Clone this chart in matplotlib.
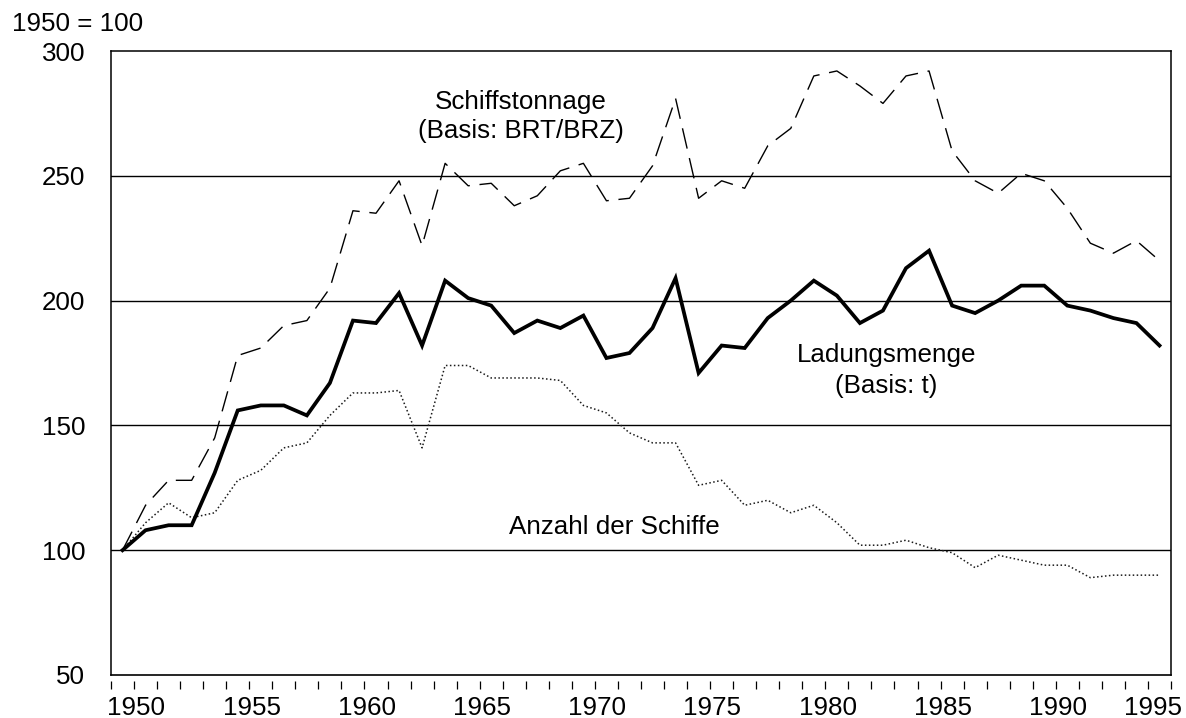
import matplotlib
matplotlib.use("Agg")
import matplotlib.pyplot as plt

plt.rcParams['font.family'] = ['Liberation Sans', 'DejaVu Sans']

years = list(range(1950, 1996))

ladungsmenge = [100, 108, 110, 110, 131, 156, 158, 158, 154, 167,
                192, 191, 203, 182, 208, 201, 198, 187, 192, 189,
                194, 177, 179, 189, 209, 171, 182, 181, 193, 200,
                208, 202, 191, 196, 213, 220, 198, 195, 200, 206,
                206, 198, 196, 193, 191, 182]

schiffstonnage = [100, 118, 128, 128, 145, 178, 181, 190, 192, 205,
                  236, 235, 248, 222, 255, 246, 247, 238, 242, 252,
                  255, 240, 241, 254, 281, 241, 248, 245, 262, 269,
                  290, 292, 286, 279, 290, 292, 260, 248, 243, 251,
                  248, 237, 223, 219, 224, 216]

anzahl = [100, 111, 119, 113, 115, 128, 132, 141, 143, 154,
          163, 163, 164, 141, 174, 174, 169, 169, 169, 168,
          158, 155, 147, 143, 143, 126, 128, 118, 120, 115,
          118, 111, 102, 102, 104, 101, 99, 93, 98, 96,
          94, 94, 89, 90, 90, 90]

y_ticks = [50, 100, 150, 200, 250, 300]
x_label_years = [1950, 1955, 1960, 1965, 1970, 1975, 1980, 1985, 1990, 1995]

FS = 18.7
W, H = 1186, 718
fig = plt.figure(figsize=(W / 100, H / 100), dpi=100)
ax = fig.add_axes([111 / W, 1 - 675 / H, (1171 - 111) / W, (675 - 51) / H])

ax.set_xlim(1949.5, 1995.5)
ax.set_ylim(50, 300)

# grid lines
for v in y_ticks[1:-1]:
    ax.axhline(v, color='black', lw=1.0, zorder=1)
ax.axhline(50, color='black', lw=1.2, clip_on=False, zorder=3)

ax.plot(years, anzahl, color='#1a1a1a', lw=1.1, linestyle=(0, (1, 1.6)), zorder=2)
ax.plot(years, schiffstonnage, color='black', lw=1.0, linestyle=(0, (15, 7)), zorder=2)
ax.plot(years, ladungsmenge, color='black', lw=2.7, solid_joinstyle='miter', zorder=4)

# spines
for s in ['top', 'left', 'right']:
    ax.spines[s].set_linewidth(1.1)
ax.spines['bottom'].set_position(('outward', 4))
ax.spines['bottom'].set_visible(False)

# y axis
ax.set_yticks(y_ticks)
ax.set_yticklabels([str(v) for v in y_ticks])
ax.tick_params(axis='y', length=0, pad=26 * 0.72, labelsize=FS)

# x axis: boundary tick marks (minor) + labels (major, no marks)
ax.set_xticks([y - 0.5 for y in range(1950, 1997)], minor=True)
label_pos = [y + 0.6 for y in x_label_years[:-1]] + [1994.7]
ax.set_xticks(label_pos)
ax.set_xticklabels([str(y) for y in x_label_years])
ax.tick_params(axis='x', which='major', length=0, pad=11, labelsize=FS)
ax.tick_params(axis='x', which='minor', length=5.5, width=0.9, direction='out')

# annotations
ax.text(1967.3, 279.6, 'Schiffstonnage', ha='center', va='center', fontsize=FS)
ax.text(1967.3, 267.9, '(Basis: BRT/BRZ)', ha='center', va='center', fontsize=FS)
ax.text(1983.15, 178.2, 'Ladungsmenge', ha='center', va='center', fontsize=FS)
ax.text(1983.15, 165.7, '(Basis: t)', ha='center', va='center', fontsize=FS)
ax.text(1971.35, 109.2, 'Anzahl der Schiffe', ha='center', va='center', fontsize=FS)

fig.text(12 / W, 1 - 24 / H, '1950 = 100', ha='left', va='center', fontsize=FS)

fig.savefig('out.png', dpi=100)
